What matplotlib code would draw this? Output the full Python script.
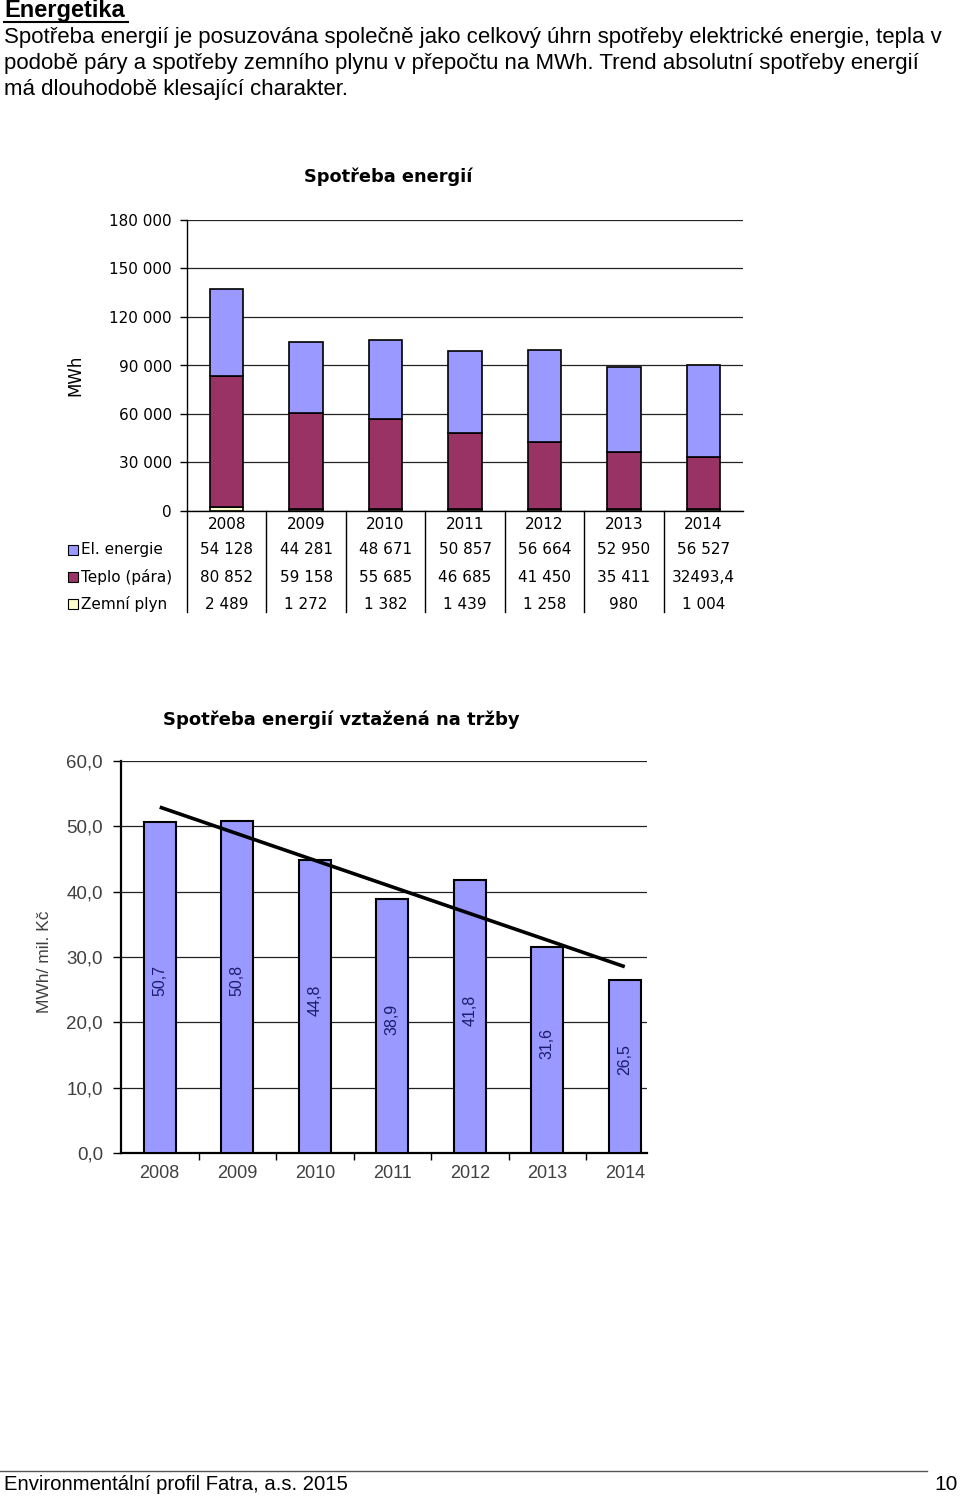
import matplotlib
matplotlib.use('Agg')
import matplotlib.pyplot as plt
import numpy as np
from matplotlib.lines import Line2D
from matplotlib.transforms import Bbox

# ---------------- data ----------------
years = ['2008', '2009', '2010', '2011', '2012', '2013', '2014']
el_energie = [54128, 44281, 48671, 50857, 56664, 52950, 56527]
teplo = [80852, 59158, 55685, 46685, 41450, 35411, 32493.4]
zemni_plyn = [2489, 1272, 1382, 1439, 1258, 980, 1004]
series_names = ['El. energie', 'Teplo (pára)', 'Zemní plyn']

intensity = [50.7, 50.8, 44.8, 38.9, 41.8, 31.6, 26.5]

top_yticks = [0, 30000, 60000, 90000, 120000, 150000, 180000]
bot_yticks = [0, 10, 20, 30, 40, 50, 60]

header_title = 'Energetika'
header_lines = [
    'Spotřeba energií je posuzována společně jako celkový úhrn spotřeby elektrické energie, tepla v',
    'podobě páry a spotřeby zemního plynu v přepočtu na MWh. Trend absolutní spotřeby energií',
    'má dlouhodobě klesající charakter.',
]
footer_text = 'Environmentální profil Fatra, a.s. 2015'
page_no = '10'

# ---------------- style ----------------
C_EL = '#9999FF'
C_TEPLO = '#993366'
C_PLYN = '#FFFFCC'

W, H = 960, 1497
fig = plt.figure(figsize=(W / 100, H / 100), dpi=100)


def fx(px):
    return px / W


def fy(py):
    return 1 - py / H


def fmt_num(v):
    if float(v).is_integer():
        s = f'{int(v):,}'.replace(',', ' ')
    else:
        s = f'{v:.1f}'.replace('.', ',')
    return s


# ---------------- header ----------------
SANS = ['Liberation Sans', 'DejaVu Sans']
fig.text(fx(4), fy(11), header_title, fontsize=17, fontweight='bold',
         family=SANS, va='center', ha='left')
fig.add_artist(Line2D([fx(4), fx(128)], [fy(21.5), fy(21.5)], color='black', lw=1.5))
for i, line in enumerate(header_lines):
    fig.text(fx(4), fy(38 + i * 25.5), line, fontsize=16, family=SANS,
             va='center', ha='left')

# ---------------- top chart ----------------
ax1 = fig.add_axes([fx(187), fy(511), (743 - 187) / W, 291 / H])
x = np.arange(len(years))
bw = 0.42
b_plyn = np.array(zemni_plyn, dtype=float)
b_teplo = np.array(teplo, dtype=float)
b_el = np.array(el_energie, dtype=float)
ax1.bar(x, b_plyn, bw, color=C_PLYN, edgecolor='black', lw=1.2, zorder=3)
ax1.bar(x, b_teplo, bw, bottom=b_plyn, color=C_TEPLO, edgecolor='black', lw=1.2, zorder=3)
ax1.bar(x, b_el, bw, bottom=b_plyn + b_teplo, color=C_EL, edgecolor='black', lw=1.2, zorder=3)

ax1.set_xticks([])
ax1.set_xlim(-0.5, len(years) - 0.5)
ax1.set_ylim(0, 180000)
ax1.set_yticks(top_yticks)
ax1.set_yticklabels([fmt_num(v) for v in top_yticks], fontsize=11, family='DejaVu Sans')
ax1.tick_params(axis='y', direction='out', length=5, width=1, pad=6)
ax1.grid(axis='y', color='#222222', lw=0.9, zorder=0)
for s in ['top', 'right']:
    ax1.spines[s].set_visible(False)
ax1.spines['left'].set_linewidth(1.0)
ax1.spines['bottom'].set_linewidth(1.0)
ax1.text((388 - 187) / 556, 1 + (220 - 177) / 291, 'Spotřeba energií', transform=ax1.transAxes,
         fontsize=12.8, fontweight='bold', family='DejaVu Sans', ha='center', va='center')
ax1.text((75 - 187) / 556, (511 - 375) / 291, 'MWh', transform=ax1.transAxes, rotation=90,
         fontsize=12, family='DejaVu Sans', ha='center', va='center')

# data table under the chart
tr = ax1.get_xaxis_transform()
row_y = [-0.045, -0.134, -0.227, -0.320]
for i, yr in enumerate(years):
    ax1.text(i, row_y[0], yr, transform=tr, ha='center', va='center', fontsize=11,
             family='DejaVu Sans', clip_on=False)
    for r, vals in enumerate([el_energie, teplo, zemni_plyn]):
        ax1.text(i, row_y[r + 1], fmt_num(vals[i]), transform=tr, ha='center',
                 va='center', fontsize=11, family='DejaVu Sans', clip_on=False)
for b in np.arange(len(years) - 1) + 0.5:
    ax1.add_line(Line2D([b, b], [0, -0.347], transform=tr, color='black', lw=1.0, clip_on=False))
ax1.add_line(Line2D([-0.5, -0.5], [0, -0.347], transform=tr, color='black', lw=1.0, clip_on=False))

# legend column
leg_colors = [C_EL, C_TEPLO, C_PLYN]
for r, (name, c) in enumerate(zip(series_names, leg_colors)):
    ax1.plot([(73 - 187) / 556], [row_y[r + 1]], marker='s', ms=7, mfc=c, mec='black',
             mew=0.8, transform=ax1.transAxes, clip_on=False, ls='none')
    ax1.text((81 - 187) / 556, row_y[r + 1], name, transform=ax1.transAxes, ha='left',
             va='center', fontsize=11, family='DejaVu Sans', clip_on=False)

# ---------------- bottom chart ----------------
ax2 = fig.add_axes([fx(121), fy(1153), (647 - 121) / W, 392 / H])
vals = np.array(intensity)
ax2.bar(x, vals, 0.41, color=C_EL, edgecolor='black', lw=1.5, zorder=3)
coef = np.polyfit(x, vals, 1)
xt = np.array([0, len(years) - 1])
ax2.plot(xt, np.polyval(coef, xt), color='black', lw=2.6, zorder=4, solid_capstyle='butt')
for i, v in enumerate(vals):
    ax2.text(i, v / 2 + 1.0, f'{v:.1f}'.replace('.', ','), rotation=90, ha='center', va='center',
             fontsize=11.5, family=SANS, color='#1c1c6c', zorder=5)

ax2.set_yticks(bot_yticks)
ax2.set_yticklabels([f'{v:.1f}'.replace('.', ',') for v in bot_yticks], fontsize=13.5,
                    family=SANS, color='#404040')
ax2.tick_params(axis='y', direction='out', length=6, width=1, pad=7)
ax2.set_xticks(x)
ax2.set_xticklabels([])
ax2.set_xticks(np.arange(len(years)) + 0.5, minor=True)
ax2.tick_params(axis='x', which='major', length=0)
ax2.tick_params(axis='x', which='minor', direction='out', length=5, width=1)
ax2.set_xlim(-0.5, -0.5 + 526 / 77.5)
ax2.set_ylim(0, 60)
ax2.grid(axis='y', color='#222222', lw=0.9, zorder=0)
for s in ['top', 'right']:
    ax2.spines[s].set_visible(False)
ax2.spines['left'].set_linewidth(1.6)
ax2.spines['bottom'].set_linewidth(1.6)
ax2.text((341 - 121) / 526, 1 + (761 - 720) / 392, 'Spotřeba energií vztažená na tržby',
         transform=ax2.transAxes, fontsize=13, fontweight='bold', family='DejaVu Sans',
         ha='center', va='center')
ax2.text((45 - 121) / 526, (1153 - 962) / 392, 'MWh/ mil. Kč', transform=ax2.transAxes,
         rotation=90, fontsize=12.5, family=SANS, color='#404040', ha='center', va='center')

# year labels of the lower chart, cropped at the bottom as in the reference
clip = Bbox.from_extents(0, fig.bbox.height * fy(1180), fig.bbox.width, fig.bbox.height)
tr2 = ax2.get_xaxis_transform()
for i, yr in enumerate(years):
    t = ax2.text(i, (1153 - 1174) / 392, yr, transform=tr2, ha='center', va='center',
                 fontsize=13, family=SANS, color='#404040')
    t.set_clip_on(True)
    t.set_clip_box(clip)

# ---------------- footer ----------------
fig.add_artist(Line2D([0, fx(927)], [fy(1471), fy(1471)], color='#555555', lw=1.0))
fig.text(fx(4), fy(1485), footer_text, fontsize=14.6, family=SANS, va='center', ha='left')
fig.text(fx(958), fy(1484), page_no, fontsize=15, family=SANS, va='center', ha='right')

fig.savefig('out.png', dpi=100)
